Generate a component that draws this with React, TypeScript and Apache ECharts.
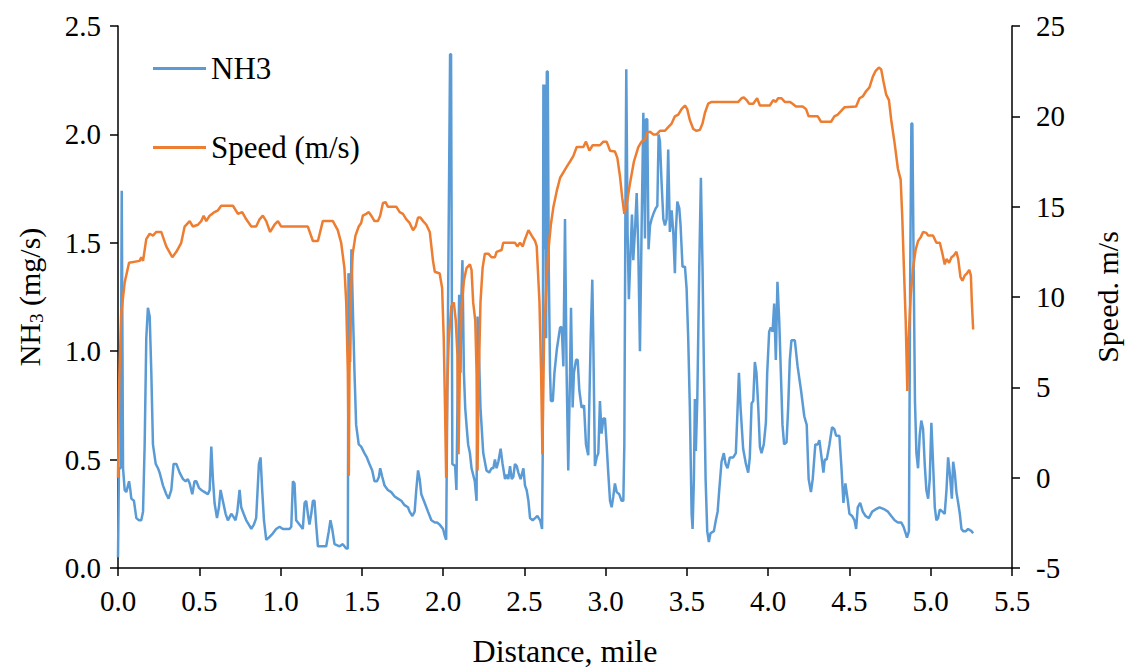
import React, { useEffect, useRef } from 'react';
import * as echarts from 'echarts';

// NH3 emission rate (mg/s) vs distance (mile)
const nh3Distance = [
  0.000, 0.006, 0.016, 0.023, 0.031, 0.041, 0.051, 0.068, 0.076, 0.082, 0.098, 0.113, 0.129, 0.143, 0.154, 0.164, 0.174, 0.184, 0.195, 0.205,
  0.215, 0.232, 0.246, 0.256, 0.277, 0.297, 0.311, 0.328, 0.342, 0.359, 0.379, 0.400, 0.416, 0.430, 0.441, 0.457, 0.471, 0.482, 0.498, 0.512,
  0.533, 0.553, 0.564, 0.574, 0.584, 0.594, 0.609, 0.621, 0.631, 0.645, 0.662, 0.676, 0.697, 0.707, 0.723, 0.734, 0.748, 0.758, 0.773, 0.789,
  0.805, 0.820, 0.836, 0.850, 0.867, 0.877, 0.887, 0.898, 0.912, 0.928, 0.953, 0.973, 0.994, 1.014, 1.055, 1.066, 1.076, 1.086, 1.096, 1.127,
  1.137, 1.148, 1.158, 1.168, 1.178, 1.189, 1.199, 1.209, 1.219, 1.230, 1.281, 1.297, 1.307, 1.318, 1.332, 1.363, 1.383, 1.404, 1.414, 1.418,
  1.424, 1.428, 1.436, 1.444, 1.455, 1.465, 1.481, 1.496, 1.516, 1.531, 1.547, 1.564, 1.578, 1.593, 1.605, 1.613, 1.626, 1.640, 1.660, 1.681,
  1.702, 1.722, 1.743, 1.763, 1.784, 1.794, 1.811, 1.825, 1.835, 1.846, 1.856, 1.866, 1.887, 1.907, 1.928, 1.949, 1.963, 1.979, 2.000, 2.010,
  2.019, 2.022, 2.043, 2.049, 2.057, 2.074, 2.082, 2.091, 2.099, 2.107, 2.113, 2.119, 2.128, 2.136, 2.144, 2.154, 2.165, 2.175, 2.185, 2.195,
  2.206, 2.212, 2.220, 2.230, 2.247, 2.267, 2.284, 2.298, 2.309, 2.319, 2.329, 2.340, 2.354, 2.366, 2.381, 2.391, 2.401, 2.412, 2.422, 2.432,
  2.442, 2.453, 2.463, 2.477, 2.494, 2.504, 2.514, 2.525, 2.535, 2.551, 2.566, 2.580, 2.597, 2.609, 2.613, 2.617, 2.623, 2.628, 2.634, 2.638,
  2.644, 2.650, 2.658, 2.663, 2.675, 2.685, 2.700, 2.712, 2.720, 2.730, 2.740, 2.750, 2.760, 2.770, 2.781, 2.787, 2.797, 2.805, 2.818, 2.828,
  2.838, 2.852, 2.867, 2.879, 2.893, 2.908, 2.918, 2.924, 2.934, 2.945, 2.955, 2.965, 2.975, 2.986, 2.996, 3.006, 3.016, 3.027, 3.037, 3.047,
  3.057, 3.068, 3.084, 3.098, 3.109, 3.115, 3.121, 3.127, 3.135, 3.143, 3.154, 3.162, 3.170, 3.180, 3.191, 3.201, 3.211, 3.221, 3.232, 3.242,
  3.248, 3.256, 3.264, 3.273, 3.283, 3.297, 3.309, 3.318, 3.326, 3.334, 3.344, 3.355, 3.365, 3.375, 3.385, 3.395, 3.406, 3.416, 3.426, 3.432,
  3.441, 3.453, 3.461, 3.473, 3.488, 3.498, 3.508, 3.518, 3.529, 3.535, 3.543, 3.549, 3.555, 3.564, 3.576, 3.586, 3.596, 3.605, 3.615, 3.625,
  3.635, 3.645, 3.666, 3.678, 3.689, 3.699, 3.713, 3.727, 3.738, 3.750, 3.764, 3.785, 3.801, 3.811, 3.820, 3.830, 3.846, 3.863, 3.877, 3.887,
  3.898, 3.908, 3.918, 3.928, 3.939, 3.949, 3.959, 3.973, 3.986, 3.994, 4.006, 4.016, 4.027, 4.037, 4.047, 4.057, 4.068, 4.078, 4.088, 4.098,
  4.113, 4.123, 4.133, 4.143, 4.164, 4.181, 4.202, 4.222, 4.237, 4.249, 4.263, 4.274, 4.290, 4.305, 4.315, 4.325, 4.340, 4.348, 4.360, 4.377,
  4.393, 4.407, 4.418, 4.438, 4.451, 4.463, 4.475, 4.490, 4.500, 4.516, 4.531, 4.541, 4.551, 4.566, 4.582, 4.599, 4.619, 4.640, 4.660, 4.685,
  4.716, 4.737, 4.757, 4.778, 4.798, 4.819, 4.833, 4.846, 4.854, 4.866, 4.874, 4.881, 4.887, 4.895, 4.903, 4.912, 4.922, 4.932, 4.942, 4.953,
  4.963, 4.973, 4.984, 4.994, 5.004, 5.014, 5.025, 5.035, 5.045, 5.056, 5.072, 5.086, 5.097, 5.107, 5.117, 5.130, 5.138, 5.148, 5.158, 5.169,
  5.179, 5.189, 5.200, 5.216, 5.230, 5.251, 5.261,
];
const nh3Values = [
  0.05, 0.46, 0.46, 1.74, 0.46, 0.36, 0.35, 0.40, 0.36, 0.32, 0.31, 0.23, 0.22, 0.22, 0.26, 0.57, 1.06, 1.20, 1.16, 0.90,
  0.57, 0.48, 0.46, 0.44, 0.38, 0.34, 0.32, 0.36, 0.48, 0.48, 0.44, 0.41, 0.40, 0.41, 0.39, 0.34, 0.40, 0.40, 0.37, 0.36,
  0.35, 0.34, 0.36, 0.56, 0.41, 0.30, 0.23, 0.28, 0.36, 0.31, 0.25, 0.22, 0.25, 0.24, 0.22, 0.26, 0.36, 0.28, 0.25, 0.22,
  0.20, 0.18, 0.20, 0.23, 0.48, 0.51, 0.36, 0.22, 0.13, 0.14, 0.16, 0.18, 0.19, 0.18, 0.18, 0.19, 0.40, 0.39, 0.22, 0.19,
  0.18, 0.30, 0.31, 0.25, 0.20, 0.25, 0.31, 0.31, 0.20, 0.10, 0.10, 0.17, 0.22, 0.18, 0.11, 0.10, 0.11, 0.09, 0.09, 1.36,
  1.30, 0.95, 1.47, 1.22, 0.90, 0.66, 0.57, 0.56, 0.53, 0.51, 0.48, 0.45, 0.40, 0.40, 0.42, 0.46, 0.42, 0.38, 0.36, 0.35,
  0.33, 0.32, 0.31, 0.29, 0.28, 0.26, 0.24, 0.26, 0.36, 0.45, 0.41, 0.34, 0.30, 0.26, 0.22, 0.21, 0.21, 0.20, 0.18, 0.15,
  0.13, 0.42, 2.37, 2.37, 0.48, 0.47, 0.36, 0.90, 1.26, 0.90, 1.26, 1.42, 0.90, 0.74, 0.66, 0.57, 0.53, 0.46, 0.43, 0.40,
  0.31, 1.16, 1.00, 0.74, 0.53, 0.45, 0.44, 0.46, 0.46, 0.50, 0.46, 0.49, 0.55, 0.48, 0.41, 0.43, 0.41, 0.47, 0.41, 0.42,
  0.48, 0.47, 0.44, 0.41, 0.46, 0.38, 0.36, 0.31, 0.23, 0.22, 0.23, 0.24, 0.22, 0.18, 0.53, 2.23, 1.47, 2.23, 1.06, 2.29,
  2.29, 1.39, 0.90, 0.77, 0.77, 0.90, 1.01, 1.07, 1.11, 1.11, 0.93, 1.61, 0.90, 0.45, 0.90, 1.20, 0.74, 0.90, 0.96, 0.96,
  0.82, 0.74, 0.75, 0.57, 0.52, 1.06, 1.33, 1.06, 0.47, 0.51, 0.53, 0.77, 0.62, 0.69, 0.69, 0.57, 0.44, 0.31, 0.28, 0.33,
  0.39, 0.35, 0.34, 0.31, 0.31, 0.57, 1.55, 2.30, 1.55, 1.24, 1.47, 1.63, 1.42, 1.55, 1.73, 1.47, 1.00, 1.55, 2.10, 1.52,
  2.07, 2.07, 1.47, 1.58, 1.61, 1.64, 1.66, 1.67, 2.00, 1.97, 1.78, 1.61, 1.58, 1.61, 1.93, 1.55, 1.65, 1.55, 1.36, 1.55,
  1.69, 1.66, 1.58, 1.39, 1.39, 1.29, 1.06, 0.74, 0.25, 0.18, 0.41, 0.78, 0.54, 0.78, 1.39, 1.80, 1.39, 0.90, 0.41, 0.17,
  0.12, 0.16, 0.17, 0.22, 0.26, 0.36, 0.49, 0.53, 0.48, 0.46, 0.51, 0.51, 0.53, 0.72, 0.90, 0.74, 0.55, 0.48, 0.44, 0.51,
  0.76, 0.77, 0.95, 0.90, 0.74, 0.56, 0.53, 0.57, 0.67, 0.90, 1.09, 1.11, 1.09, 1.22, 0.96, 1.32, 1.14, 0.90, 0.66, 0.57,
  0.58, 0.74, 0.96, 1.05, 1.05, 0.93, 0.82, 0.70, 0.66, 0.41, 0.35, 0.41, 0.57, 0.57, 0.59, 0.53, 0.44, 0.50, 0.50, 0.57,
  0.65, 0.64, 0.61, 0.61, 0.46, 0.30, 0.39, 0.31, 0.25, 0.24, 0.22, 0.18, 0.28, 0.30, 0.26, 0.24, 0.23, 0.26, 0.27, 0.28,
  0.27, 0.26, 0.24, 0.22, 0.21, 0.21, 0.19, 0.16, 0.14, 0.17, 1.39, 2.05, 2.05, 1.39, 0.77, 0.53, 0.46, 0.61, 0.68, 0.64,
  0.48, 0.36, 0.32, 0.41, 0.67, 0.49, 0.28, 0.22, 0.23, 0.27, 0.26, 0.25, 0.36, 0.51, 0.44, 0.32, 0.49, 0.44, 0.35, 0.30,
  0.25, 0.18, 0.17, 0.17, 0.18, 0.17, 0.16,
];

// Vehicle speed (m/s) vs distance (mile)
const speedDistance = [
  0.000, 0.008, 0.020, 0.041, 0.068, 0.133, 0.143, 0.154, 0.174, 0.195, 0.215, 0.236, 0.266, 0.297, 0.334, 0.359, 0.389, 0.410, 0.441, 0.461,
  0.492, 0.512, 0.527, 0.543, 0.564, 0.594, 0.615, 0.635, 0.707, 0.738, 0.764, 0.789, 0.820, 0.850, 0.871, 0.891, 0.912, 0.936, 0.963, 0.984,
  1.004, 1.168, 1.199, 1.230, 1.260, 1.322, 1.352, 1.373, 1.393, 1.404, 1.414, 1.420, 1.424, 1.434, 1.444, 1.461, 1.481, 1.496, 1.506, 1.527,
  1.543, 1.558, 1.578, 1.599, 1.613, 1.630, 1.646, 1.660, 1.712, 1.733, 1.753, 1.774, 1.794, 1.815, 1.831, 1.846, 1.860, 1.877, 1.897, 1.918,
  1.928, 1.938, 1.949, 1.979, 1.994, 2.004, 2.012, 2.019, 2.025, 2.035, 2.051, 2.066, 2.078, 2.088, 2.095, 2.103, 2.113, 2.128, 2.144, 2.165,
  2.175, 2.185, 2.198, 2.206, 2.212, 2.220, 2.230, 2.243, 2.257, 2.278, 2.298, 2.319, 2.329, 2.360, 2.370, 2.442, 2.457, 2.473, 2.490, 2.504,
  2.525, 2.545, 2.566, 2.576, 2.593, 2.603, 2.611, 2.621, 2.634, 2.648, 2.663, 2.679, 2.700, 2.720, 2.740, 2.760, 2.781, 2.801, 2.822, 2.863,
  2.879, 2.900, 2.920, 2.965, 2.986, 3.006, 3.027, 3.057, 3.072, 3.088, 3.102, 3.115, 3.129, 3.150, 3.174, 3.201, 3.221, 3.242, 3.256, 3.273,
  3.293, 3.314, 3.334, 3.365, 3.385, 3.406, 3.426, 3.447, 3.467, 3.488, 3.502, 3.518, 3.539, 3.559, 3.580, 3.596, 3.611, 3.631, 3.652, 3.816,
  3.836, 3.850, 3.867, 3.883, 3.908, 3.932, 3.949, 4.010, 4.031, 4.047, 4.061, 4.082, 4.102, 4.133, 4.150, 4.171, 4.212, 4.233, 4.249, 4.305,
  4.325, 4.387, 4.407, 4.428, 4.449, 4.469, 4.541, 4.562, 4.582, 4.603, 4.623, 4.644, 4.660, 4.681, 4.695, 4.710, 4.726, 4.743, 4.757, 4.778,
  4.798, 4.815, 4.825, 4.835, 4.846, 4.856, 4.864, 4.877, 4.891, 4.907, 4.922, 4.938, 4.953, 4.973, 4.984, 5.014, 5.035, 5.056, 5.072, 5.086,
  5.097, 5.113, 5.128, 5.142, 5.158, 5.169, 5.183, 5.195, 5.210, 5.222, 5.237, 5.247, 5.253, 5.261,
];
const speedValues = [
  0.0, 5.5, 9.1, 10.8, 11.9, 12.0, 12.2, 12.0, 13.2, 13.5, 13.4, 13.6, 13.6, 12.8, 12.2, 12.5, 13.0, 13.9, 14.2, 13.9,
  14.0, 14.2, 14.5, 14.2, 14.5, 14.7, 14.8, 15.05, 15.05, 14.6, 14.7, 14.3, 13.9, 13.9, 14.3, 14.5, 14.2, 13.6, 14.0, 14.2,
  13.9, 13.9, 13.1, 13.1, 14.2, 14.2, 13.7, 13.0, 11.6, 9.7, 5.8, 0.1, 5.8, 10.5, 12.4, 13.4, 13.9, 14.1, 14.5, 14.6,
  14.7, 14.5, 14.2, 14.2, 14.5, 15.2, 15.25, 15.0, 15.0, 14.7, 14.6, 14.3, 14.1, 13.7, 13.9, 14.4, 14.4, 14.2, 14.0, 13.6,
  12.8, 12.0, 11.4, 11.3, 10.5, 7.7, 3.8, 0.0, 4.8, 7.7, 9.5, 9.7, 8.7, 6.8, 1.3, 5.8, 9.3, 10.9, 11.6, 11.8,
  11.5, 9.7, 8.7, 5.8, 0.4, 5.8, 9.7, 11.6, 12.4, 12.4, 12.2, 12.2, 12.5, 12.6, 13.0, 13.0, 12.8, 13.0, 12.8, 13.2,
  13.7, 13.4, 13.1, 12.8, 9.7, 5.8, 1.3, 7.7, 10.5, 12.6, 14.0, 15.0, 15.9, 16.6, 16.9, 17.2, 17.5, 17.8, 18.3, 18.3,
  18.6, 18.1, 18.4, 18.4, 18.6, 18.6, 18.1, 18.05, 17.7, 16.7, 15.5, 14.6, 15.1, 16.3, 17.5, 18.3, 18.6, 18.7, 19.1, 19.15,
  19.0, 19.0, 19.2, 19.2, 19.4, 19.6, 20.0, 20.1, 20.4, 20.6, 20.4, 19.8, 19.3, 19.2, 19.25, 19.6, 20.2, 20.7, 20.8, 20.8,
  21.0, 21.05, 20.9, 20.7, 20.7, 21.0, 20.6, 20.6, 20.9, 20.8, 21.0, 21.0, 20.8, 20.8, 20.7, 20.55, 20.55, 20.4, 20.0, 20.0,
  19.7, 19.7, 20.0, 20.1, 20.3, 20.5, 20.55, 21.0, 21.1, 21.4, 21.6, 22.2, 22.5, 22.7, 22.6, 21.9, 21.2, 20.9, 19.8, 18.5,
  17.1, 16.5, 14.4, 11.6, 8.7, 4.8, 7.7, 10.1, 11.6, 12.6, 13.1, 13.3, 13.6, 13.55, 13.4, 13.4, 13.0, 13.0, 12.4, 11.8,
  12.1, 11.9, 12.2, 12.3, 12.5, 12.1, 11.1, 10.9, 11.2, 11.3, 11.5, 11.2, 9.7, 8.2,
];

const seriesNames = ['NH3', 'Speed (m/s)'];
const xAxisName = 'Distance, mile';
const rightAxisName = 'Speed. m/s';

const FONT = 'Liberation Serif';
const BLUE = '#5B9BD5';
const ORANGE = '#ED7D31';

export default function App() {
  const ref = useRef<HTMLDivElement>(null);

  useEffect(() => {
    if (!ref.current) return;
    const chart = echarts.init(ref.current, null, { renderer: 'svg' });

    const nh3Data = nh3Distance.map((d, i) => [d, nh3Values[i]]);
    const speedData = speedDistance.map((d, i) => [d, speedValues[i]]);

    const axisLine = { show: true, onZero: false, lineStyle: { color: '#000', width: 1.5 } };
    const axisTick = { show: true, inside: false, length: 8, lineStyle: { color: '#000', width: 1.5 } };

    chart.setOption({
      animation: false,
      backgroundColor: '#fff',
      textStyle: { fontFamily: FONT, color: '#000' },
      grid: { left: 118, right: 116, top: 26, bottom: 99, containLabel: false },
      legend: {
        show: true,
        orient: 'vertical',
        left: 148,
        top: 48,
        itemWidth: 53,
        itemHeight: 3,
        itemGap: 48,
        icon: 'rect',
        data: seriesNames,
        textStyle: { fontFamily: FONT, fontSize: 31, color: '#000', lineHeight: 30 },
      },
      xAxis: {
        type: 'value',
        min: 0,
        max: 5.5,
        interval: 0.5,
        name: xAxisName,
        nameLocation: 'middle',
        nameGap: 67,
        nameTextStyle: { fontFamily: FONT, fontSize: 32, color: '#000' },
        axisLine,
        axisTick,
        splitLine: { show: false },
        axisLabel: {
          fontFamily: FONT,
          fontSize: 29,
          color: '#000',
          margin: 18,
          formatter: (v: number) => v.toFixed(1),
        },
      },
      yAxis: [
        {
          type: 'value',
          position: 'left',
          min: 0,
          max: 2.5,
          interval: 0.5,
          name: '{a|NH}{b|3}{a| (mg/s)}',
          nameLocation: 'middle',
          nameRotate: 90,
          nameGap: 72,
          nameTextStyle: {
            fontFamily: FONT,
            color: '#000',
            rich: {
              a: { fontFamily: FONT, fontSize: 30, color: '#000', lineHeight: 34 },
              b: { fontFamily: FONT, fontSize: 19, color: '#000', lineHeight: 20, verticalAlign: 'bottom' },
            },
          },
          axisLine,
          axisTick,
          splitLine: { show: false },
          axisLabel: {
            fontFamily: FONT,
            fontSize: 29,
            color: '#000',
            margin: 17,
            formatter: (v: number) => v.toFixed(1),
          },
        },
        {
          type: 'value',
          position: 'right',
          min: -5,
          max: 25,
          interval: 5,
          name: rightAxisName,
          nameLocation: 'middle',
          nameRotate: 90,
          nameGap: 80,
          nameTextStyle: { fontFamily: FONT, fontSize: 30, color: '#000' },
          axisLine,
          axisTick,
          splitLine: { show: false },
          axisLabel: {
            fontFamily: FONT,
            fontSize: 29,
            color: '#000',
            margin: 24,
          },
        },
      ],
      series: [
        {
          name: seriesNames[0],
          type: 'line',
          yAxisIndex: 0,
          data: nh3Data,
          symbol: 'none',
          showSymbol: false,
          smooth: false,
          color: BLUE,
          lineStyle: { color: BLUE, width: 2.5 },
          z: 2,
        },
        {
          name: seriesNames[1],
          type: 'line',
          yAxisIndex: 1,
          data: speedData,
          symbol: 'none',
          showSymbol: false,
          smooth: false,
          color: ORANGE,
          lineStyle: { color: ORANGE, width: 2.5 },
          z: 3,
        },
      ],
    });

    return () => {
      chart.dispose();
    };
  }, []);

  return (
    <div
      ref={ref}
      style={{ position: 'fixed', left: 0, top: 0, width: 1130, height: 672, background: '#fff' }}
    />
  );
}
